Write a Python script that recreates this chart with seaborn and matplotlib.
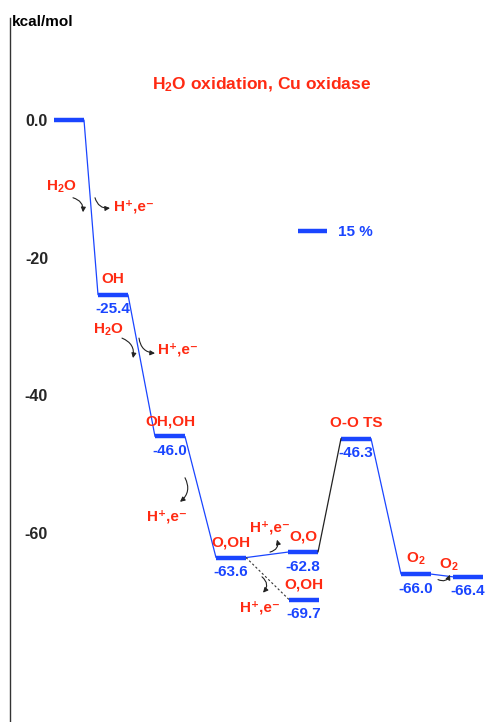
import matplotlib
matplotlib.use("Agg")
import matplotlib.pyplot as plt
from matplotlib.lines import Line2D
import seaborn as sns
import pandas as pd

# energies of the stationary points (kcal/mol) and where they sit on the reaction axis
level_energy = [0.0, -25.4, -46.0, -63.6, -62.8, -69.7, -46.3, -66.0, -66.4]
level_start = [4.4, 8.8, 14.5, 20.6, 27.8, 27.9, 33.1, 39.1, 44.3]
level_name = ["", "OH", "OH,OH", "O,OH", "O,O", "O,OH", "O-O TS", "O$_2$", ""]
level_value = ["", "-25.4", "-46.0", "-63.6", "-62.8", "-69.7", "-46.3", "-66.0", "-66.4"]
LEVEL_W = 3.0

# connectors: (from, to, kind)
links = [(0, 1, "blue"), (1, 2, "blue"), (2, 3, "blue"), (3, 4, "blue"),
         (3, 5, "dashed"), (4, 6, "black"), (6, 7, "blue"), (7, 8, "blue")]

yticks = [0, -20, -40, -60]
ytick_labels = ["0.0", "-20", "-40", "-60"]

# species going in / out, with curved arrows (text pos, arrow start, arrow end, rad)
HE = "H\u207a,e\u207b"
side_text = ["H$_2$O", HE, "H$_2$O", HE, HE, HE, HE, "O$_2$"]
side_xy = [(5.15, -9.7), (12.4, -12.6), (9.8, -30.5), (16.8, -33.4), (15.65, -57.6),
           (26.0, -59.2), (25.0, -70.9), (43.9, -64.6)]
arrow_from = [(6.3, -11.3), (8.5, -11.3), (11.2, -31.7), (12.9, -31.7), (17.5, -52.0),
              (26.0, -62.8), (25.2, -66.4), (42.8, -66.8)]
arrow_to = [(7.3, -13.4), (10.0, -12.8), (12.3, -34.6), (14.5, -33.9), (17.0, -55.5),
            (26.7, -61.0), (25.3, -68.7), (44.0, -66.1)]
arrow_rad = [-0.4, 0.4, -0.4, 0.4, -0.4, 0.5, -0.5, 0.5]

BLUE = "#1a45ff"
RED = "#ff2a12"

sns.set_style("white")
plt.rcParams["font.family"] = ["Liberation Sans", "DejaVu Sans"]
plt.rcParams["mathtext.fontset"] = "custom"
plt.rcParams["mathtext.rm"] = "Liberation Sans:bold"
plt.rcParams["mathtext.bf"] = "Liberation Sans:bold"
plt.rcParams["mathtext.it"] = "Liberation Sans:bold"
plt.rcParams["mathtext.default"] = "bf"

fig = plt.figure(figsize=(4.88, 7.22), dpi=100)
ax = fig.add_axes([10 / 488, 0, 478 / 488, 704 / 722])

# level bars
rows = []
for i, (x0, e) in enumerate(zip(level_start, level_energy)):
    rows.append({"x": x0, "E": e, "level": i})
    rows.append({"x": x0 + LEVEL_W, "E": e, "level": i})
levels = pd.DataFrame(rows)
sns.lineplot(data=levels, x="x", y="E", units="level", estimator=None, sort=False,
             color=BLUE, lw=3.2, solid_capstyle="butt", ax=ax)

# connectors
for a, b, kind in links:
    seg = pd.DataFrame({"x": [level_start[a] + LEVEL_W, level_start[b]],
                        "E": [level_energy[a], level_energy[b]]})
    if kind == "dashed":
        sns.lineplot(data=seg, x="x", y="E", color="#333333", lw=0.8,
                     linestyle=(0, (2, 2)), sort=False, ax=ax)
    else:
        sns.lineplot(data=seg, x="x", y="E", color=BLUE if kind == "blue" else "#222222",
                     lw=0.9, sort=False, ax=ax)

# level names and values
for x0, e, name, val in zip(level_start, level_energy, level_name, level_value):
    xc = x0 + LEVEL_W / 2
    if name:
        ax.annotate(name, (xc, e), xytext=(0, 11), textcoords="offset points",
                    ha="center", va="center", color=RED, fontsize=11, fontweight="bold")
    if val:
        ax.annotate(val, (xc, e), xytext=(0, -10.5), textcoords="offset points",
                    ha="center", va="center", color=BLUE, fontsize=11, fontweight="bold")

# side species and curved arrows
for txt, (tx, ty), p0, p1, rad in zip(side_text, side_xy, arrow_from, arrow_to, arrow_rad):
    ax.text(tx, ty, txt, ha="center", va="center", color=RED, fontsize=11,
            fontweight="bold")
    ax.annotate("", xy=p1, xytext=p0,
                arrowprops=dict(arrowstyle="-|>", color="#222222", lw=0.8,
                                mutation_scale=7, shrinkA=0, shrinkB=0,
                                connectionstyle=f"arc3,rad={rad}"))

ax.set_xlim(0, 47.8)
ax.set_ylim(-87.5, 14.83)
ax.set_xticks([])
ax.set_yticks(yticks, labels=ytick_labels)
ax.tick_params(axis="y", length=0, pad=-27.4, labelsize=11.5)
for lab in ax.get_yticklabels():
    lab.set_fontweight("bold")
ax.set_xlabel("")
ax.set_ylabel("")
for side in ["top", "right", "bottom"]:
    ax.spines[side].set_visible(False)
ax.spines["left"].set_color("#333333")
ax.spines["left"].set_linewidth(1.0)

fig.text(12 / 488, 1 - 22 / 722, "kcal/mol", ha="left", va="center",
         fontsize=11, fontweight="bold", color="black")
fig.text(262 / 488, 1 - 85 / 722, "H$_2$O oxidation, Cu oxidase", ha="center",
         va="center", fontsize=12.5, fontweight="bold", color=RED)

leg = ax.legend(handles=[Line2D([], [], color=BLUE, lw=3.2, solid_capstyle="butt")],
                labels=["15 %"], loc="center left", frameon=False,
                bbox_to_anchor=(298 / 488, 1 - 232 / 722), bbox_transform=fig.transFigure,
                borderaxespad=0, borderpad=0, handlelength=1.9, handletextpad=0.75,
                prop={"size": 11, "weight": "bold"})
for t in leg.get_texts():
    t.set_color(BLUE)

fig.savefig("out.png", dpi=100)
